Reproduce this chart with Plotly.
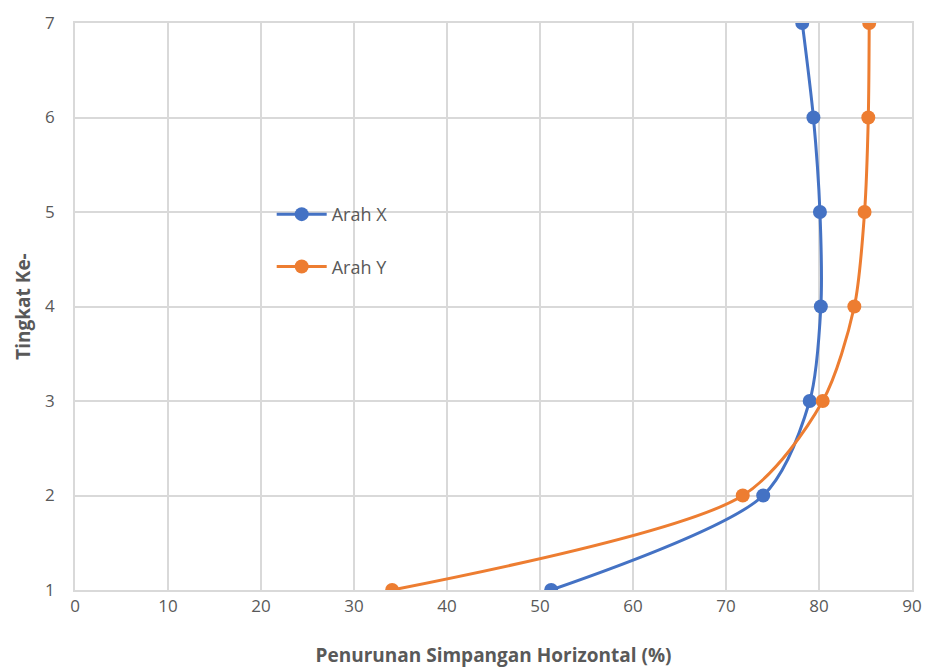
import plotly.graph_objects as go

tingkat = [1, 2, 3, 4, 5, 6, 7]
arah_x = [51.2, 74.0, 79.0, 80.2, 80.1, 79.4, 78.2]
arah_y = [34.1, 71.8, 80.4, 83.8, 84.9, 85.3, 85.4]

fig = go.Figure()
fig.add_trace(go.Scatter(x=arah_x, y=tingkat, name="Arah X", mode="lines+markers", legendgroup="a",
                         line=dict(color="#4472C4", width=3, shape="spline", smoothing=0.8),
                         marker=dict(size=14, color="#4472C4")))
fig.add_trace(go.Scatter(x=arah_y, y=tingkat, name="Arah Y", mode="lines+markers", legendgroup="b",
                         line=dict(color="#ED7D31", width=3, shape="spline", smoothing=0.8),
                         marker=dict(size=14, color="#ED7D31")))

font = "Open Sans, Liberation Sans, sans-serif"
fig.update_layout(
    width=928, height=670,
    margin=dict(l=75, r=16, t=23, b=80, autoexpand=False),
    plot_bgcolor="white", paper_bgcolor="white",
    font=dict(family=font, color="#595959", size=17),
    legend=dict(x=0.235, y=0.695, xanchor="left", yanchor="top", bgcolor="rgba(0,0,0,0)",
                font=dict(size=18, color="#595959"), tracegroupgap=26, itemwidth=50),
    showlegend=True,
)
fig.update_xaxes(range=[0, 90], dtick=10, showgrid=True, gridcolor="#d9d9d9", gridwidth=1.5,
                 zeroline=False, showline=True, linecolor="#d9d9d9", linewidth=1.5, mirror=True,
                 ticks="", tickfont=dict(size=17), automargin=False,
                 title=dict(text="<b>Penurunan Simpangan Horizontal (%)</b>", font=dict(size=19), standoff=33))
fig.update_yaxes(range=[1, 7], dtick=1, showgrid=True, gridcolor="#d9d9d9", gridwidth=1.5,
                 zeroline=False, showline=True, linecolor="#d9d9d9", linewidth=1.5, mirror=True,
                 ticks="", tickfont=dict(size=17), ticklabelstandoff=15, automargin=False,
                 title=dict(text="<b>Tingkat Ke-</b>", font=dict(size=19), standoff=9))
fig.write_html("out.html")
